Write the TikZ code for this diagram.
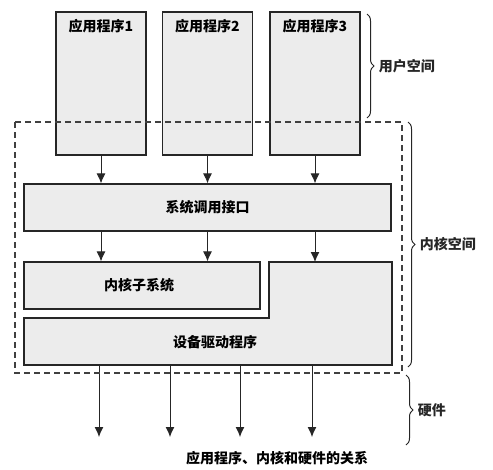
\documentclass[tikz,border=0pt]{standalone}
\usepackage{fontspec}
\setmainfont{Noto Sans CJK SC}
\usetikzlibrary{arrows.meta}
\usetikzlibrary{decorations.pathreplacing}
\tikzset{
    appbox/.style = {rectangle, line width=1.2pt, draw=black!85, fill=gray!15, minimum width=90pt, minimum height=143pt},
    layerbox/.style = {rectangle, line width=1.2pt, draw=black!85, fill=gray!15, minimum height=47pt},
    lbl/.style = {font=\fontsize{14}{16}\selectfont\bfseries},
    edgen/.style = {-{Latex[length=10pt,width=9pt]},line width=1pt,black!85},
    spacebrace/.style = {decorate,decoration={brace,amplitude=7pt},line width=1pt,black!85},
    every picture/.style={font issue=\bfseries},
    font issue/.style={execute at begin picture={#1\selectfont}
  }
}
\begin{document}
\begin{tikzpicture}[x=1pt,y=-1pt]
\useasboundingbox (0,0) rectangle (493,469);
%
\node[appbox, label={[lbl,anchor=north,yshift=-4pt]north:应用程序1}] at (101, 83.5) (a1) {};
\node[appbox, label={[lbl,anchor=north,yshift=-4pt]north:应用程序2}] at (207.5, 83.5) (a2) {};
\node[appbox, label={[lbl,anchor=north,yshift=-4pt]north:应用程序3}] at (315, 83.5) (a3) {};
\node[layerbox, lbl, minimum width=367pt] at (207.5, 207.5) (sys) {系统调用接口};
\node[layerbox, minimum width=236pt] at (142, 285.5) (ksub) {};
\node[lbl] at (139, 285) (ksubtxt) {内核子系统};
%
\coordinate (d1) at (24, 365);
\coordinate (d2) at (24, 318);
\coordinate (d3) at (269, 318);
\coordinate (d4) at (269, 262);
\coordinate (d5) at (392, 262);
\coordinate (d6) at (392, 365);
\path[draw=black!85, line width=1.2pt, fill=gray!15] (d1) -- (d2) -- (d3) -- (d4) -- (d5) -- (d6) -- cycle;
\node[lbl] at (215, 342) (drv) {设备驱动程序};
%
\draw[edgen] (a1.south) -- (a1.south |- sys.north);
\draw[edgen] (a2.south) -- (a2.south |- sys.north);
\draw[edgen] (a3.south) -- (a3.south |- sys.north);
\draw[edgen] (sys.south -| a1.south) -- (ksub.north -| a1.south);
\draw[edgen] (sys.south -| a2.south) -- (ksub.north -| a2.south);
\draw[edgen] (sys.south -| a3.south) -- (d5 -| a3.south);
%
\coordinate (h1) at (99, 437);
\coordinate (h2) at (170, 437);
\coordinate (h3) at (240, 437);
\coordinate (h4) at (312, 437);
\draw[edgen] (h1 |- d1) -- (h1);
\draw[edgen] (h2 |- d1) -- (h2);
\draw[edgen] (h3 |- d1) -- (h3);
\draw[edgen] (h4 |- d1) -- (h4);
%
\path[draw=black!75, line width=1.1pt, dash pattern=on 6pt off 4pt] (15,122) rectangle (402,373);
%
\draw[spacebrace] (367,14) -- (367,118) node[midway, right=8pt, lbl] (user) {用户空间};
\draw[spacebrace] (408,122) -- (408,367) node[midway, right=8pt, lbl] (kern) {内核空间};
\draw[spacebrace] (406,375) -- (406,445) node[midway, right=8pt, lbl] (hw) {硬件};
%
\node[lbl] at (277, 458) (cap) {应用程序、内核和硬件的关系};

\end{tikzpicture}
\end{document}
